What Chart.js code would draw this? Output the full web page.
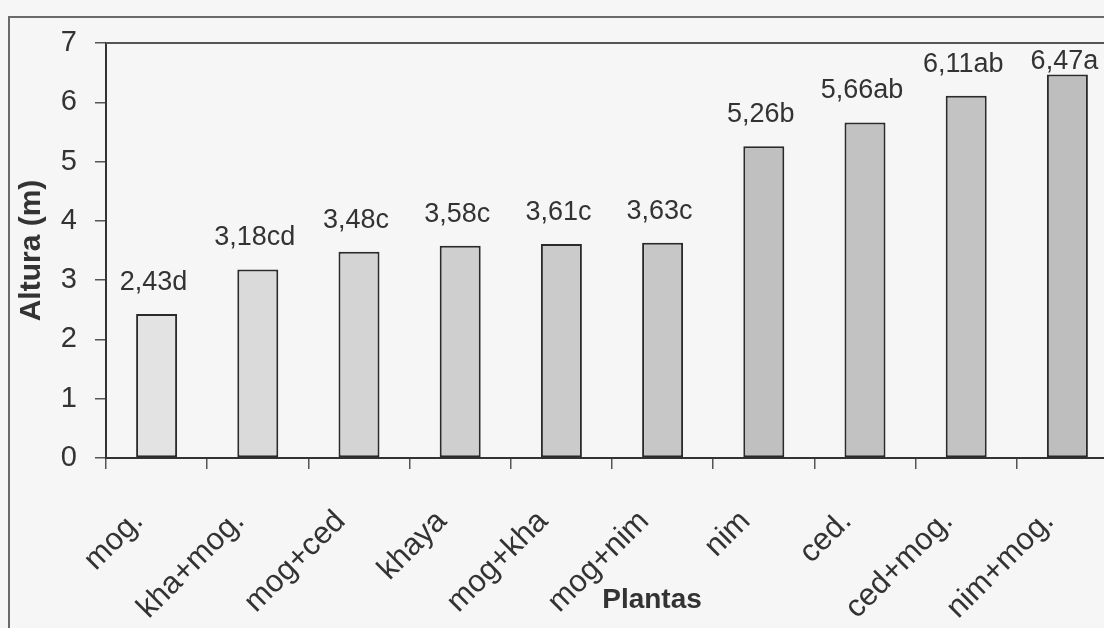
<!DOCTYPE html>
<html>
<head>
<meta charset="utf-8">
<script src="https://cdn.jsdelivr.net/npm/chart.js@4.4.1/dist/chart.umd.min.js"></script>
<style>
  html, body { margin: 0; padding: 0; width: 1104px; height: 628px; overflow: hidden; background: #f6f6f6; }
  #frame { position: absolute; left: 8px; top: 16px; width: 2000px; height: 1000px;
           border-left: 2px solid #6a6a6a; border-top: 2px solid #6a6a6a; }
  #wrap { position: absolute; left: 0; top: 0; width: 1160px; height: 628px; }
</style>
</head>
<body>
<div id="frame"></div>
<div id="wrap"><canvas id="c"></canvas></div>
<script>
// ---- data ----
const categories = ['mog.', 'kha+mog.', 'mog+ced', 'khaya', 'mog+kha', 'mog+nim', 'nim', 'ced.', 'ced+mog.', 'nim+mog.'];
const heights = [2.43, 3.18, 3.48, 3.58, 3.61, 3.63, 5.26, 5.66, 6.11, 6.47];
const letters = ['d', 'cd', 'c', 'c', 'c', 'c', 'b', 'ab', 'ab', 'a'];
const yTicks = [0, 1, 2, 3, 4, 5, 6, 7];

// ---- styles ----
const barColors = ['#e3e3e3', '#dadada', '#d4d4d4', '#cfcfcf', '#cbcbcb', '#c7c7c7', '#c0c0c0', '#c2c2c2', '#c3c3c3', '#bebebe'];
const textColor = '#333333';
const FONT = "'Liberation Sans', Arial, sans-serif";

const dataLabels = heights.map((v, i) => v.toFixed(2).replace('.', ',') + letters[i]);

const plotFrame = {
  id: 'plotFrame',
  beforeDatasetsDraw(chart) {
    const a = chart.chartArea, ctx = chart.ctx;
    ctx.save();
    ctx.strokeStyle = '#555';
    ctx.lineWidth = 2;
    ctx.beginPath();
    ctx.moveTo(a.left, a.top);
    ctx.lineTo(a.right, a.top);
    ctx.lineTo(a.right, a.bottom);
    ctx.stroke();
    ctx.restore();
  }
};

const valueLabels = {
  id: 'valueLabels',
  afterDatasetsDraw(chart) {
    const ctx = chart.ctx, a = chart.chartArea;
    const meta = chart.getDatasetMeta(0);
    ctx.save();
    ctx.font = '27px ' + FONT;
    ctx.fillStyle = textColor;
    ctx.textAlign = 'center';
    ctx.textBaseline = 'alphabetic';
    meta.data.forEach((el, i) => {
      const y = Math.max(el.y - 24, a.top + 26);
      ctx.fillText(dataLabels[i], el.x - 3, y);
    });
    ctx.restore();
  }
};

const xTitle = {
  id: 'xTitle',
  afterDraw(chart) {
    const ctx = chart.ctx;
    ctx.save();
    ctx.font = 'bold 28px ' + FONT;
    ctx.fillStyle = textColor;
    ctx.textAlign = 'center';
    ctx.textBaseline = 'alphabetic';
    ctx.fillText('Plantas', 652, 608);
    ctx.restore();
  }
};

new Chart(document.getElementById('c'), {
  type: 'bar',
  data: {
    labels: categories,
    datasets: [{
      data: heights,
      backgroundColor: barColors,
      borderColor: '#2a2a2a',
      borderWidth: 2,
      borderSkipped: false,
      barPercentage: 0.405,
      categoryPercentage: 1.0
    }]
  },
  options: {
    responsive: true,
    maintainAspectRatio: false,
    animation: false,
    layout: { padding: { left: 0, top: 43, right: 42, bottom: 0 } },
    plugins: { legend: { display: false }, tooltip: { enabled: false } },
    scales: {
      x: {
        afterFit(scale) { scale.height = 170; },
        grid: { offset: true, drawOnChartArea: false, drawTicks: true, tickLength: 11, color: '#555', lineWidth: 1.5 },
        border: { display: true, color: '#333', width: 2 },
        ticks: {
          autoSkip: false, maxRotation: 45, minRotation: 45,
          padding: 16,
          color: textColor,
          font: { family: FONT, size: 31 },
          callback: (v, i) => categories[i] + '   '
        }
      },
      y: {
        min: 0, max: 7,
        afterFit(scale) { scale.width = 106; },
        afterBuildTicks(scale) { scale.ticks = yTicks.map(v => ({ value: v })); },
        grid: { drawOnChartArea: false, drawTicks: true, tickLength: 11, color: '#555', lineWidth: 1.5 },
        border: { display: true, color: '#333', width: 2 },
        ticks: { padding: 18, color: textColor, font: { family: FONT, size: 29 } },
        title: { display: true, text: 'Altura (m)', color: textColor, font: { family: FONT, size: 30, weight: 'bold' }, padding: { top: 14, bottom: 0 } }
      }
    }
  },
  plugins: [plotFrame, valueLabels, xTitle]
});
</script>
</body>
</html>
